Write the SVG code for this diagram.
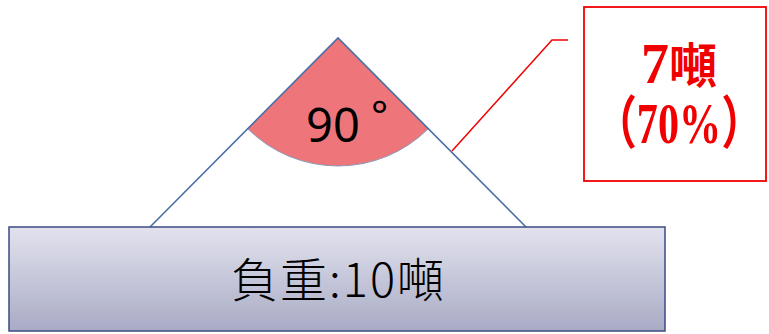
<svg xmlns="http://www.w3.org/2000/svg" width="769" height="334" viewBox="0 0 769 334">
<defs>
<linearGradient id="boxg" x1="0" y1="0" x2="0" y2="1">
<stop offset="0" stop-color="#e2e2ee"/>
<stop offset="1" stop-color="#a9abc5"/>
</linearGradient>
<style>
.rope{stroke:#4a6fa5;stroke-width:1.6;fill:none}
.red{fill:#f00000;font-family:"Liberation Serif","Noto Sans CJK TC",serif;font-weight:bold}
.lbl{font-family:"Noto Sans CJK TC","Noto Sans",sans-serif;font-weight:300;fill:#000}
</style>
</defs>
<g id="sector">
<path d="M338,38 L247.5,128.5 A128,128 0 0 0 428.5,128.5 Z" fill="#ee767b" stroke="#8a9ab8" stroke-width="1"/>
<text x="306" y="142" font-size="47" font-family="Noto Sans, sans-serif" fill="#000">90<tspan x="371" y="130" font-size="40">°</tspan></text>
</g>
<g id="connectors">
<path class="rope" d="M150,227 L338,38 L526,227"/>
<path d="M452,151 L552,40 L568,40" stroke="#f00000" stroke-width="1.5" fill="none"/>
</g>
<g id="load">
<rect x="9" y="227" width="656" height="104" fill="url(#boxg)" stroke="#3d4b80" stroke-width="1.5"/>
<text class="lbl" x="231" y="297" font-size="47" letter-spacing="2">負重:10噸</text>
</g>
<g id="callout">
<rect x="584" y="7" width="182" height="174" fill="#fff" stroke="#f00000" stroke-width="1.8"/>
<text class="red" x="641" y="83"><tspan font-size="56">7</tspan><tspan font-size="48">噸</tspan></text>
<text class="red" transform="translate(679,143) scale(0.74,1)" text-anchor="middle" font-size="57">（70%）</text>
</g>
</svg>
